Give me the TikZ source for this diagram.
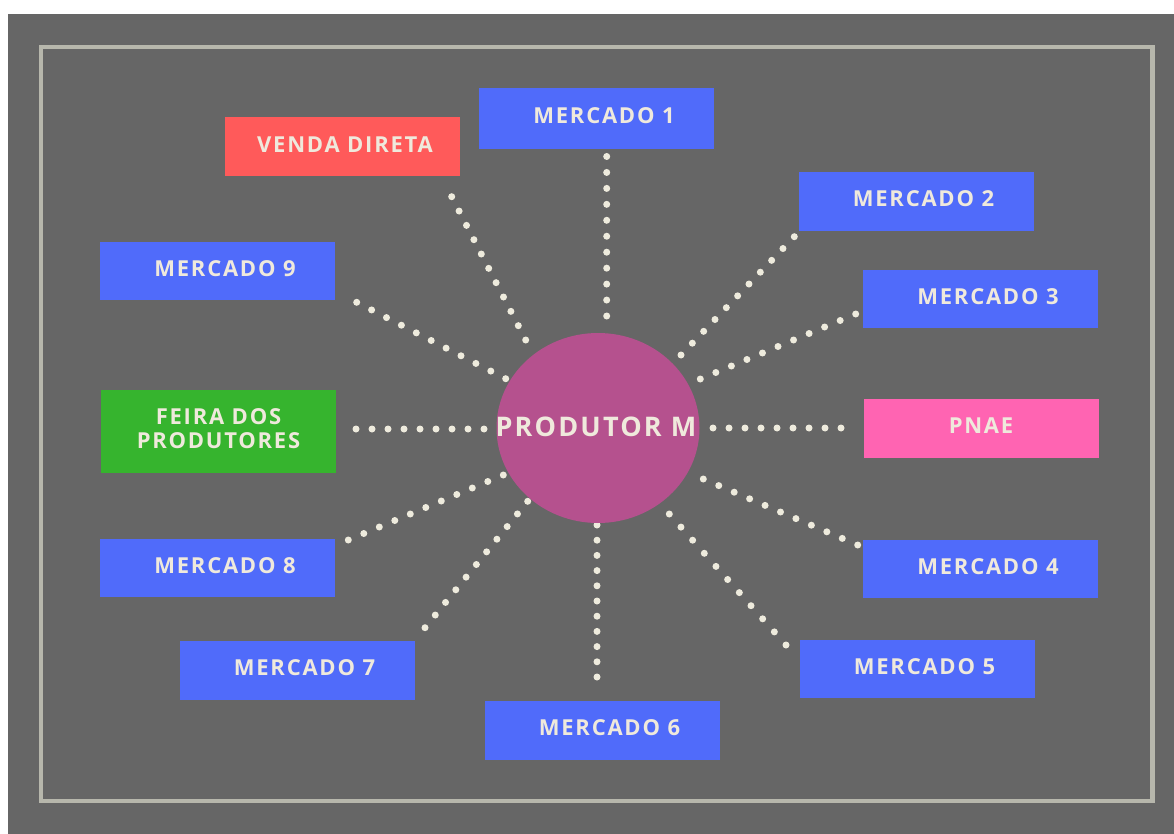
\documentclass[tikz,border=0pt]{standalone}
\usepackage{fontspec}
\setmainfont{Open Sans}
\usetikzlibrary{calc}
\definecolor{bg}{HTML}{666666}
\definecolor{framec}{HTML}{B7B7AC}
\definecolor{bluebox}{HTML}{506BFA}
\definecolor{redbox}{HTML}{FF5A5A}
\definecolor{greenbox}{HTML}{36B42E}
\definecolor{pinkbox}{HTML}{FF64B2}
\definecolor{circc}{HTML}{B5518E}
\definecolor{dotc}{HTML}{EEEBDD}
\definecolor{txtc}{HTML}{EFE9DC}
\newcommand\dotrow[3]{\foreach \i in {0,...,#3}{\fill[dotc] ($(#1)!{\i/#3}!(#2)$) circle (3.5);}}
\newcommand\mk[1]{\hspace*{15pt}#1}
\begin{document}
\begin{tikzpicture}[x=1pt,y=-1pt,
  boxfont/.style={font=\fontsize{22}{24.5}\selectfont\bfseries\addfontfeature{LetterSpace=8}},
  box/.style={rectangle, inner sep=0pt, minimum width=235pt, minimum height=59pt,
    text=txtc, boxfont, text depth=5pt, align=center},
  blue/.style={box, fill=bluebox},
]
\useasboundingbox (0,0) rectangle (1174,834);
\fill[white] (0,0) rectangle (1174,834);
\fill[bg] (8,14) rectangle (1174,834);
\draw[framec, line width=4.5pt] (41,46.8) rectangle (1152.5,800.8);

% dotted connectors
\coordinate (m1a) at (606.7,156.5); \coordinate (m1b) at (606.7,316);
\coordinate (va) at (451.7,196.7); \coordinate (vb) at (525.7,340);
\coordinate (m2a) at (794.3,236.7); \coordinate (m2b) at (681,355);
\coordinate (m9a) at (356.7,302.3); \coordinate (m9b) at (505.7,378.7);
\coordinate (m3a) at (855.7,314); \coordinate (m3b) at (700.3,379);
\coordinate (fa) at (356,429); \coordinate (fb) at (484,429);
\coordinate (pa) at (713,428); \coordinate (pb) at (841,428);
\coordinate (m8a) at (348.3,540); \coordinate (m8b) at (503.3,475);
\coordinate (m7a) at (425,627.7); \coordinate (m7b) at (527.7,501.3);
\coordinate (m6a) at (597,525); \coordinate (m6b) at (597,677);
\coordinate (m4a) at (703.3,479); \coordinate (m4b) at (857.7,545);
\coordinate (m5a) at (669.3,514); \coordinate (m5b) at (786,645);
\dotrow{m1a}{m1b}{10}
\dotrow{va}{vb}{10}
\dotrow{m2a}{m2b}{10}
\dotrow{m9a}{m9b}{10}
\dotrow{m3a}{m3b}{10}
\dotrow{fa}{fb}{8}
\dotrow{pa}{pb}{8}
\dotrow{m8a}{m8b}{10}
\dotrow{m7a}{m7b}{10}
\dotrow{m6a}{m6b}{10}
\dotrow{m4a}{m4b}{10}
\dotrow{m5a}{m5b}{10}

% centre
\fill[circc] (598,428) ellipse [x radius=101.5, y radius=95];
\node[inner sep=0pt, text=txtc, font=\fontsize{27}{30}\selectfont\bfseries\addfontfeature{LetterSpace=8}] (pm) at (596,426.5) {PRODUTOR M};

% boxes
\node[blue, minimum height=61pt] (m1) at (596.5,118.2) {\mk{MERCADO 1}};
\node[box, fill=redbox] (vd) at (342,147) {\hspace*{6pt}VENDA DIRETA};
\node[blue] (m2) at (916,201.5) {\mk{MERCADO 2}};
\node[blue, minimum height=58pt] (m9) at (217.5,271) {\mk{MERCADO 9}};
\node[blue, minimum height=58pt] (m3) at (980.5,299) {\mk{MERCADO 3}};
\node[box, fill=greenbox, minimum height=83pt] (fd) at (218.5,431) {FEIRA DOS\\PRODUTORES};
\node[box, fill=pinkbox] (pn) at (981,428) {PNAE};
\node[blue, minimum height=58pt] (m8) at (217.5,568) {\mk{MERCADO 8}};
\node[blue, minimum height=58pt] (m4) at (980.5,569) {\mk{MERCADO 4}};
\node[blue] (m7) at (297,670.5) {\mk{MERCADO 7}};
\node[blue, minimum height=58pt] (m5) at (917,669) {\mk{MERCADO 5}};
\node[blue] (m6) at (602,730.3) {\mk{MERCADO 6}};
\end{tikzpicture}
\end{document}
